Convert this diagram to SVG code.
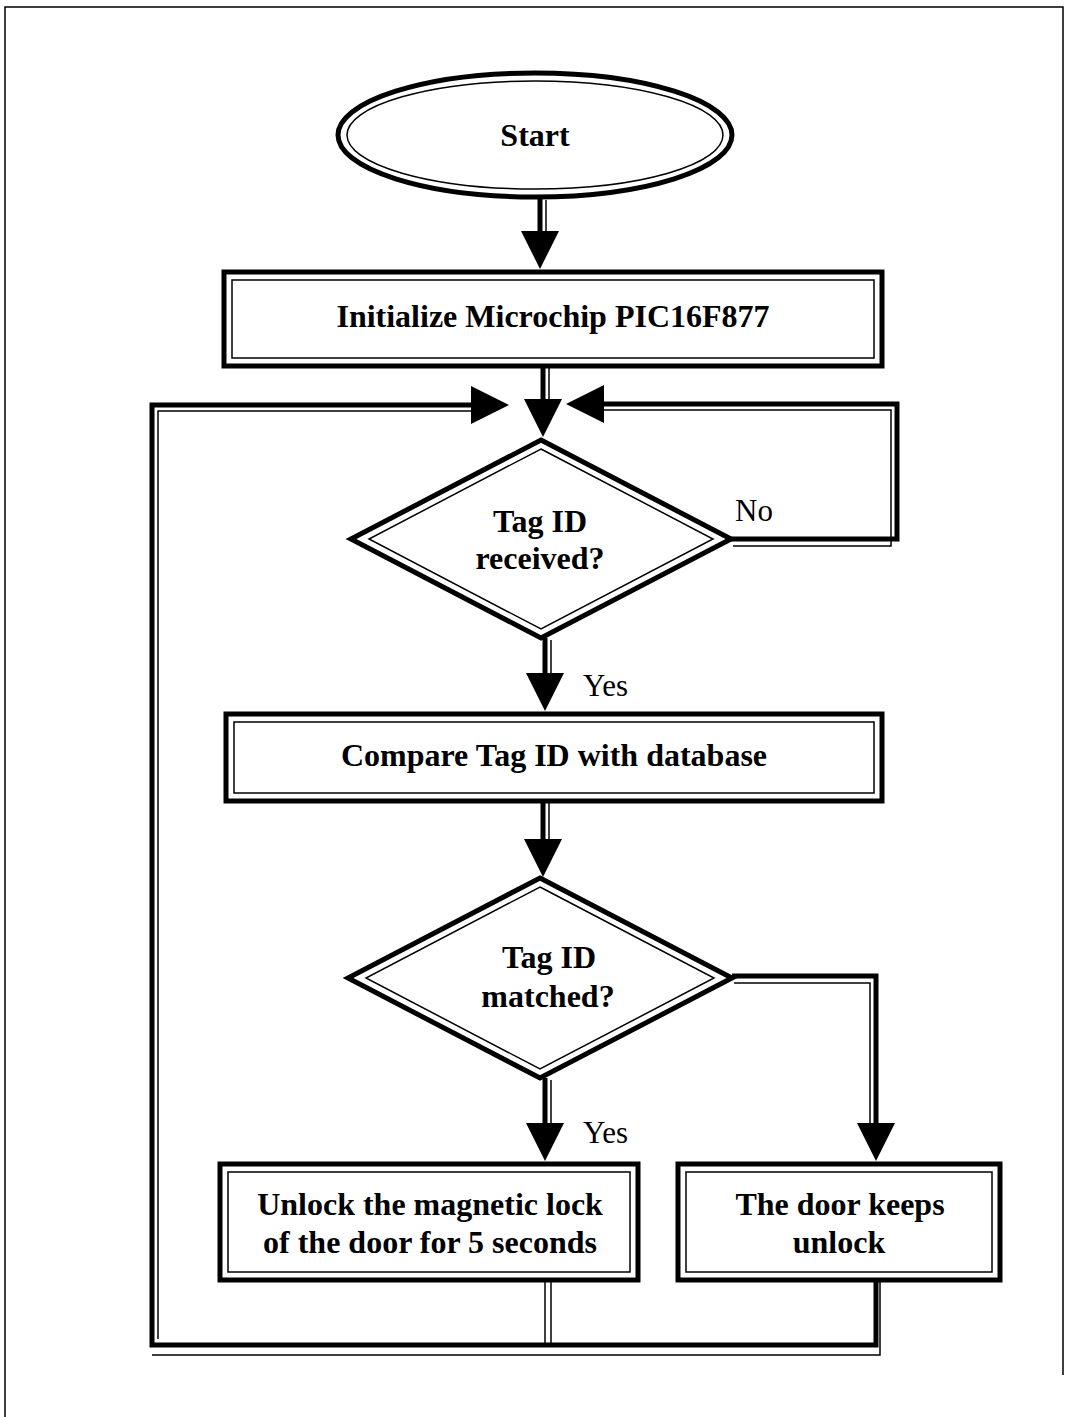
<svg xmlns="http://www.w3.org/2000/svg" width="1067" height="1417" viewBox="0 0 1067 1417">
<style>
.bg{fill:#fff}
.frame{fill:none;stroke:#000;stroke-width:1.5}
.outer{fill:#fff;stroke:#000;stroke-width:5}
.inner{fill:none;stroke:#000;stroke-width:1.5}
.conn{fill:none;stroke:#000;stroke-width:5;stroke-linejoin:miter}
.thin{fill:none;stroke:#000;stroke-width:1.5}
.lbl{font-family:"Liberation Serif","Times New Roman",serif;font-weight:bold;font-size:32px;fill:#000;text-anchor:middle}
.edge{font-family:"Liberation Serif","Times New Roman",serif;font-size:31px;fill:#000}
</style>
<defs>
<marker id="arrow" viewBox="0 0 38 38" markerWidth="38" markerHeight="38" refX="1" refY="19" orient="auto" markerUnits="userSpaceOnUse">
<path d="M0,0 L38,19 L0,38 Z" fill="#000"/>
</marker>
</defs>
<rect class="bg" x="0" y="0" width="1067" height="1417"/>
<path class="frame" d="M5,1417 V7 H1063 V1375"/>

<g id="connectors">
<path class="conn" d="M540,197 V232" marker-end="url(#arrow)"/>
<path class="thin" d="M546,200 V234"/>
<path class="conn" d="M543,368 V400" marker-end="url(#arrow)"/>
<path class="thin" d="M549,368 V400"/>
<path class="conn" d="M731,539 H897 V404 H603" marker-end="url(#arrow)"/>
<path class="thin" d="M733,546 H891 V410 H603"/>
<path class="conn" d="M876,1282 V1345 H152 V405 H472" marker-end="url(#arrow)"/>
<path class="thin" d="M880,1282 V1355 H152"/>
<path class="thin" d="M158,1339 V411 H472"/>
<path class="thin" d="M545,1282 V1345"/>
<path class="thin" d="M551,1282 V1345"/>
<path class="conn" d="M545,638 V674" marker-end="url(#arrow)"/>
<path class="thin" d="M551,640 V674"/>
<path class="conn" d="M543,803 V840" marker-end="url(#arrow)"/>
<path class="thin" d="M549,803 V840"/>
<path class="conn" d="M545,1078 V1124" marker-end="url(#arrow)"/>
<path class="thin" d="M551,1080 V1124"/>
<path class="conn" d="M732,976 H876 V1124" marker-end="url(#arrow)"/>
<path class="thin" d="M734,983 H870 V1124"/>
<text class="edge" x="735" y="521">No</text>
<text class="edge" x="583" y="696">Yes</text>
<text class="edge" x="583" y="1143">Yes</text>
</g>

<g id="start">
<ellipse class="outer" cx="535" cy="135" rx="197" ry="62"/>
<ellipse class="inner" cx="535" cy="135" rx="188" ry="54"/>
<text class="lbl" x="535" y="146">Start</text>
</g>

<g id="init">
<rect class="outer" x="224" y="272" width="658" height="94"/>
<rect class="inner" x="232" y="280" width="642" height="78"/>
<text class="lbl" x="553" y="327">Initialize Microchip PIC16F877</text>
</g>

<g id="received">
<polygon class="outer" points="541,440 731,539 541,638 351,539"/>
<polygon class="inner" points="541,449 713,539 541,629 369,539"/>
<text class="lbl" x="540" y="532">Tag ID</text>
<text class="lbl" x="540" y="569">received?</text>
</g>

<g id="compare">
<rect class="outer" x="226" y="714" width="656" height="87"/>
<rect class="inner" x="234" y="722" width="640" height="71"/>
<text class="lbl" x="554" y="766">Compare Tag ID with database</text>
</g>

<g id="matched">
<polygon class="outer" points="540,878 732,978 540,1078 348,978"/>
<polygon class="inner" points="540,887 714,978 540,1069 366,978"/>
<text class="lbl" x="549" y="968">Tag ID</text>
<text class="lbl" x="548" y="1007">matched?</text>
</g>

<g id="unlock">
<rect class="outer" x="220" y="1164" width="418" height="116"/>
<rect class="inner" x="228" y="1172" width="402" height="100"/>
<text class="lbl" x="430" y="1215">Unlock the magnetic lock</text>
<text class="lbl" x="430" y="1253">of the door for 5 seconds</text>
</g>

<g id="keeps">
<rect class="outer" x="678" y="1164" width="322" height="116"/>
<rect class="inner" x="686" y="1172" width="306" height="100"/>
<text class="lbl" x="840" y="1215">The door keeps</text>
<text class="lbl" x="839" y="1253">unlock</text>
</g>
</svg>
